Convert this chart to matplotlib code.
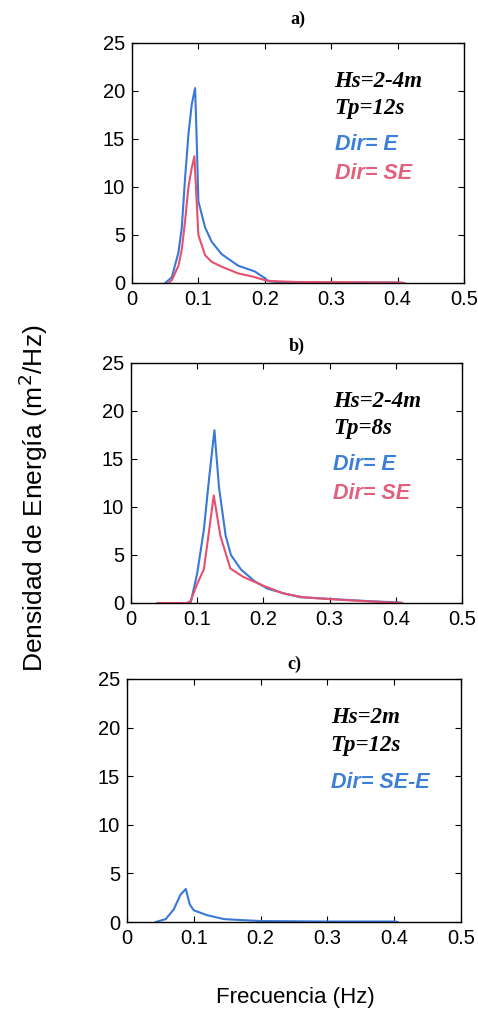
import matplotlib
matplotlib.use("Agg")
import matplotlib.pyplot as plt

# ---- data ----
freq_a_E = [0.050, 0.060, 0.070, 0.075, 0.080, 0.085, 0.090, 0.095, 0.097, 0.100, 0.110, 0.120, 0.135, 0.160, 0.185, 0.200, 0.205, 0.220, 0.300, 0.400, 0.410]
dens_a_E = [0.0, 0.6, 3.2, 5.8, 11.0, 15.5, 18.6, 20.3, 16.0, 8.5, 5.8, 4.3, 3.0, 1.8, 1.2, 0.5, 0.2, 0.1, 0.05, 0.05, 0.0]

freq_a_SE = [0.055, 0.060, 0.070, 0.075, 0.080, 0.085, 0.090, 0.094, 0.097, 0.100, 0.110, 0.120, 0.135, 0.160, 0.180, 0.200, 0.210, 0.250, 0.400, 0.410]
dens_a_SE = [0.0, 0.3, 1.8, 3.5, 6.5, 10.0, 12.0, 13.2, 9.0, 5.0, 2.9, 2.2, 1.7, 1.0, 0.7, 0.3, 0.2, 0.1, 0.05, 0.0]

freq_b_E = [0.080, 0.090, 0.100, 0.110, 0.118, 0.126, 0.133, 0.143, 0.151, 0.166, 0.186, 0.206, 0.231, 0.256, 0.307, 0.357, 0.407]
dens_b_E = [0.0, 0.0, 3.1, 7.6, 13.0, 18.0, 12.0, 7.0, 5.0, 3.5, 2.3, 1.5, 1.0, 0.6, 0.4, 0.2, 0.05]

freq_b_SE = [0.040, 0.085, 0.090, 0.100, 0.110, 0.115, 0.125, 0.135, 0.150, 0.170, 0.200, 0.230, 0.260, 0.300, 0.350, 0.410]
dens_b_SE = [0.0, 0.0, 0.2, 2.0, 3.5, 6.0, 11.2, 7.0, 3.6, 2.7, 1.8, 1.0, 0.6, 0.4, 0.2, 0.0]

freq_c = [0.043, 0.058, 0.070, 0.080, 0.088, 0.094, 0.100, 0.120, 0.145, 0.170, 0.200, 0.300, 0.400, 0.405]
dens_c = [0.0, 0.3, 1.3, 2.8, 3.4, 1.8, 1.2, 0.7, 0.3, 0.2, 0.1, 0.05, 0.05, 0.0]

panel_titles = ["a)", "b)", "c)"]
params_hs = ["Hs=2-4m", "Hs=2-4m", "Hs=2m"]
params_tp = ["Tp=12s", "Tp=8s", "Tp=12s"]
xticks = [0, 0.1, 0.2, 0.3, 0.4, 0.5]
xticklabels = ["0", "0.1", "0.2", "0.3", "0.4", "0.5"]
yticks = [0, 5, 10, 15, 20, 25]

BLUE = "#3a78d6"
RED = "#e6506f"
BLUE_T = "#3b7fd8"
RED_T = "#e2607c"

plt.rcParams['font.family'] = ['Liberation Sans', 'DejaVu Sans']
SERIF = ['Liberation Serif', 'DejaVu Serif']

fig = plt.figure(figsize=(4.78, 10.19), dpi=100)

W = 478.0
H = 1019.0
boxes = [(132, 43, 464, 283), (131, 363, 462, 603), (127, 679, 461, 922)]
title_pads = [14, 9, 7]

series = [
    [(freq_a_E, dens_a_E, BLUE), (freq_a_SE, dens_a_SE, RED)],
    [(freq_b_E, dens_b_E, BLUE), (freq_b_SE, dens_b_SE, RED)],
    [(freq_c, dens_c, BLUE)],
]
dir_labels = [
    [("Dir= E", BLUE_T), ("Dir= SE", RED_T)],
    [("Dir= E", BLUE_T), ("Dir= SE", RED_T)],
    [("Dir= SE-E", BLUE_T)],
]

for i, (l, t, r, b) in enumerate(boxes):
    ax = fig.add_axes([l / W, 1 - b / H, (r - l) / W, (b - t) / H])
    for fx, fy, c in series[i]:
        ax.plot(fx, fy, color=c, lw=1.5)
    ax.set_xlim(0, 0.5)
    ax.set_ylim(0, 25)
    ax.set_xticks(xticks)
    ax.set_xticklabels(xticklabels)
    ax.set_yticks(yticks)
    ax.tick_params(direction='in', top=True, right=True, labelsize=14.5,
                   length=4, width=0.8, pad=5)
    for s in ax.spines.values():
        s.set_linewidth(1.0)
    ax.set_title(panel_titles[i], fontsize=13, fontweight='bold',
                 family=SERIF, pad=title_pads[i])
    ax.text(0.305, 21.0, params_hs[i], fontsize=16.5, fontweight='bold', style='italic',
            family=SERIF, va='center', ha='left')
    ax.text(0.305, 18.2, params_tp[i], fontsize=16.5, fontweight='bold', style='italic',
            family=SERIF, va='center', ha='left')
    for k, (txt, col) in enumerate(dir_labels[i]):
        ax.text(0.305, 14.4 - 3.0 * k, txt, fontsize=15.5, fontweight='bold', style='italic',
                color=col, va='center', ha='left')

fig.text(33 / W, 1 - 498 / H, "Densidad de Energía (m$^2$/Hz)", rotation=90,
         fontsize=19, va='center', ha='center')
fig.text(295 / W, 1 - 998 / H, "Frecuencia (Hz)", fontsize=16, va='center', ha='center')

fig.savefig("out.png", dpi=100)
